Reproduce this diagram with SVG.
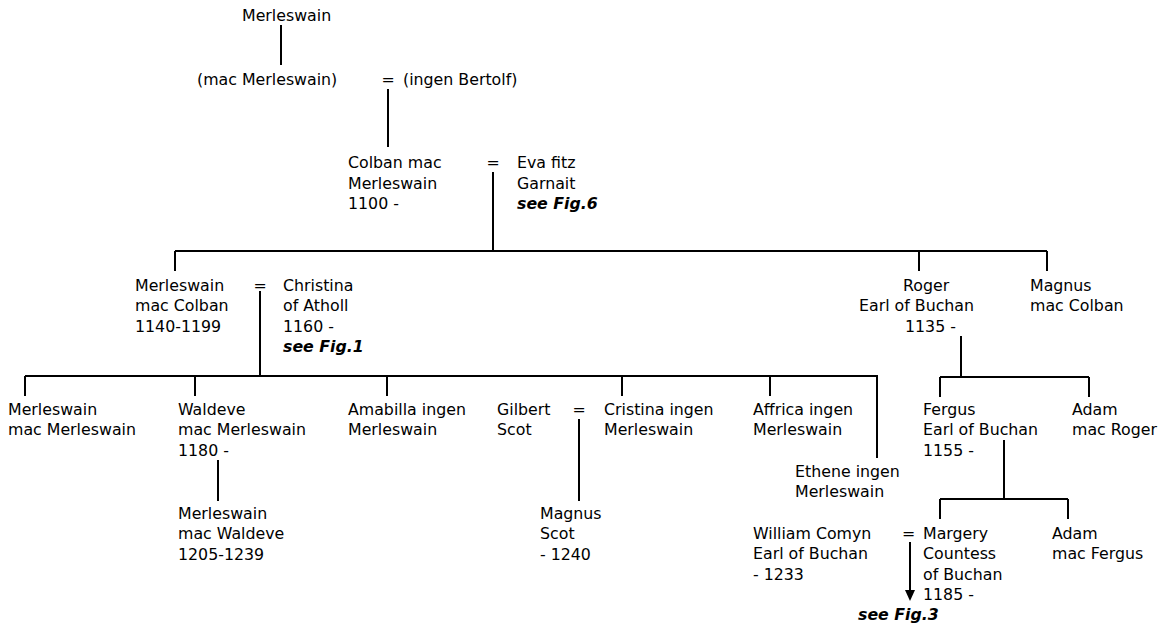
<svg xmlns="http://www.w3.org/2000/svg" width="1163" height="623" viewBox="0 0 1163 623">
  <style>
    text { font-family: "DejaVu Sans", Verdana, sans-serif; font-size: 15.8px; fill: #000; }
    .ref { font-weight: bold; font-style: italic; }
    .ln { stroke: #000; stroke-width: 2; fill: none; }
  </style>
  <rect width="1163" height="623" fill="#fff"/>

  <!-- connectors -->
  <g id="connectors" class="ln">
    <path d="M281,25 V65"/>
    <path d="M388,89 V147"/>
    <path d="M493,172 V251 M175,251 H1047 M175,251 V271 M919,251 V271 M1047,251 V271"/>
    <path d="M260,291 V376 M25,376 H878 M25,376 V396 M195,376 V396 M387,376 V396 M622,376 V396 M770,376 V396 M877,376 V458"/>
    <path d="M218,460 V501"/>
    <path d="M579,419 V501"/>
    <path d="M961,336 V377 M940,377 H1089 M940,377 V397 M1089,377 V397"/>
    <path d="M1004,440 V499 M940,499 H1068 M940,499 V519 M1068,499 V519"/>
    <path d="M910,542 V592"/>
    <path d="M905,590 L915,590 L910,601 Z" fill="#000" stroke="none"/>
  </g>

  <g id="n-merleswain"><text x="242" y="20.5">Merleswain</text></g>
  <g id="n-mac-merleswain"><text x="197" y="85">(mac Merleswain)</text></g>
  <g id="m-1"><text x="381.5" y="85">=</text></g>
  <g id="n-ingen-bertolf"><text x="403" y="85">(ingen Bertolf)</text></g>

  <g id="n-colban"><text x="348" y="168">Colban mac</text><text x="348" y="188.5">Merleswain</text><text x="348" y="209">1100 -</text></g>
  <g id="m-2"><text x="486.5" y="168">=</text></g>
  <g id="n-eva"><text x="517" y="168">Eva fitz</text><text x="517" y="188.5">Garnait</text><text x="517" y="209" class="ref">see Fig.6</text></g>

  <g id="n-merleswain-colban"><text x="135" y="291">Merleswain</text><text x="135" y="311">mac Colban</text><text x="135" y="331.5">1140-1199</text></g>
  <g id="m-3"><text x="253.5" y="291">=</text></g>
  <g id="n-christina"><text x="283" y="291">Christina</text><text x="283" y="311">of Atholl</text><text x="283" y="331.5">1160 -</text><text x="283" y="352" class="ref">see Fig.1</text></g>

  <g id="n-roger"><text x="903" y="291">Roger</text><text x="859" y="311">Earl of Buchan</text><text x="905" y="331.5">1135 -</text></g>
  <g id="n-magnus-colban"><text x="1030" y="291">Magnus</text><text x="1030" y="311">mac Colban</text></g>

  <g id="n-merleswain-mm"><text x="8" y="414.5">Merleswain</text><text x="8" y="435">mac Merleswain</text></g>
  <g id="n-waldeve"><text x="178" y="414.5">Waldeve</text><text x="178" y="435">mac Merleswain</text><text x="178" y="455.5">1180 -</text></g>
  <g id="n-merleswain-waldeve"><text x="178" y="518.5">Merleswain</text><text x="178" y="539">mac Waldeve</text><text x="178" y="559.5">1205-1239</text></g>
  <g id="n-amabilla"><text x="348" y="414.5">Amabilla ingen</text><text x="348" y="435">Merleswain</text></g>
  <g id="n-gilbert"><text x="497" y="414.5">Gilbert</text><text x="497" y="435">Scot</text></g>
  <g id="m-4"><text x="572.5" y="414.5">=</text></g>
  <g id="n-cristina"><text x="604" y="414.5">Cristina ingen</text><text x="604" y="435">Merleswain</text></g>
  <g id="n-magnus-scot"><text x="540" y="518.5">Magnus</text><text x="540" y="539">Scot</text><text x="540" y="559.5">- 1240</text></g>
  <g id="n-affrica"><text x="753" y="414.5">Affrica ingen</text><text x="753" y="435">Merleswain</text></g>
  <g id="n-ethene"><text x="795" y="476.5">Ethene ingen</text><text x="795" y="497">Merleswain</text></g>
  <g id="n-william"><text x="753" y="538.5">William Comyn</text><text x="753" y="559">Earl of Buchan</text><text x="753" y="579.5">- 1233</text></g>
  <g id="m-5"><text x="902" y="538.5">=</text></g>
  <g id="n-margery"><text x="923" y="538.5">Margery</text><text x="923" y="559">Countess</text><text x="923" y="579.5">of Buchan</text><text x="923" y="600">1185 -</text></g>
  <g id="n-fig3"><text x="858" y="620" class="ref">see Fig.3</text></g>

  <g id="n-fergus"><text x="923" y="414.5">Fergus</text><text x="923" y="435">Earl of Buchan</text><text x="923" y="455.5">1155 -</text></g>
  <g id="n-adam-roger"><text x="1072" y="414.5">Adam</text><text x="1072" y="435">mac Roger</text></g>
  <g id="n-adam-fergus"><text x="1052" y="538.5">Adam</text><text x="1052" y="559">mac Fergus</text></g>
</svg>
